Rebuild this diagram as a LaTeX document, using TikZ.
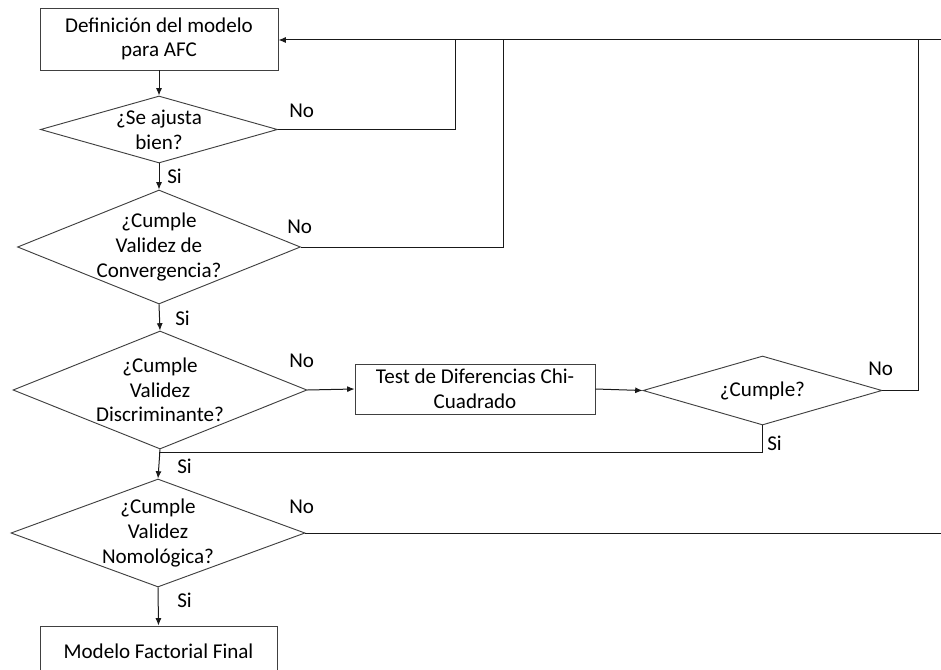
\documentclass[tikz,border=0pt]{standalone}
\usepackage{fontspec}
\setmainfont{Carlito}
\usetikzlibrary{shapes.geometric,arrows.meta}
\begin{document}
\begin{tikzpicture}[x=0.75pt,y=-0.75pt,
  every node/.style={font=\fontsize{15.8}{18.5}\selectfont},
  procbox/.style={draw=black!75,line width=0.7pt,rectangle,inner sep=0pt},
  decision/.style={draw=black!75,line width=0.7pt,diamond,inner sep=0pt},
  txt/.style={align=center,inner sep=0pt},
  lbl/.style={anchor=west,inner sep=0pt},
  flow/.style={draw=black!90,line width=0.75pt},
  arr/.style={flow,-{Latex[length=5.5pt,width=4.5pt]}}]
\useasboundingbox (0,0) rectangle (941,670);
\clip (0,0) rectangle (941,670);

% process boxes
\node[procbox,minimum width=238*0.75pt,minimum height=62*0.75pt] (b1) at (159,39) {};
\node[txt] (t1) at (b1) {Definición del modelo\\para AFC};
\node[procbox,minimum width=240*0.75pt,minimum height=50*0.75pt] (tb) at (475,389) {};
\node[txt] (ttb) at (tb) {Test de Diferencias Chi-\\Cuadrado};
\node[procbox,minimum width=237*0.75pt,minimum height=50*0.75pt] (bf) at (158.5,651) {};
\node[txt] (tbf) at (bf) {Modelo Factorial Final};

% decisions
\node[decision,minimum width=237*0.75pt,minimum height=67*0.75pt] (d1) at (159,129.5) {};
\node[txt] (td1) at (d1) {¿Se ajusta\\bien?};
\node[decision,minimum width=283*0.75pt,minimum height=114*0.75pt] (d2) at (159,247) {};
\node[txt] (td2) at (d2) {¿Cumple\\Validez de\\Convergencia?};
\node[decision,minimum width=294*0.75pt,minimum height=118*0.75pt] (d3) at (160,390) {};
\node[txt] (td3) at (d3) {¿Cumple\\Validez\\Discriminante?};
\node[decision,minimum width=239*0.75pt,minimum height=69*0.75pt] (d4) at (762.5,390.5) {};
\node[txt] (td4) at (d4) {¿Cumple?};
\node[decision,minimum width=294*0.75pt,minimum height=108*0.75pt] (d5) at (158,533) {};
\node[txt] (td5) at (d5) {¿Cumple\\Validez\\Nomológica?};

% corner points of the return paths
\coordinate (top) at (941,40);
\coordinate (c1) at (455,40);
\coordinate (c2) at (503,40);
\coordinate (c4) at (918,40);
\coordinate (j) at (159,452);
\coordinate (e5) at (941,533);

% main column
\draw[arr] (b1.south) -- (d1.north);
\draw[arr] (d1.south) -- (d2.north);
\draw[arr] (d2.south) -- (d3.north);
\draw[arr] (d3.south) -- (d5.north);
\draw[arr] (d5.south) -- (bf.north);

% side branch
\draw[arr] (d3.east) -- (tb.west);
\draw[arr] (tb.east) -- (d4.west);

% return paths
\draw[arr] (top) -- (b1.east |- top);
\draw[flow] (d1.east) -| (c1);
\draw[flow] (d2.east) -| (c2);
\draw[flow] (d4.east) -| (c4);
\draw[flow] (d4.south) |- (j);
\draw[flow] (d5.east) -- (e5);

% branch labels
\node[lbl] (n1) at (289,111) {No};
\node[lbl] (s1) at (167,176) {Si};
\node[lbl] (n2) at (287,227) {No};
\node[lbl] (s2) at (175,318) {Si};
\node[lbl] (n3) at (289,361) {No};
\node[lbl] (n4) at (868,369) {No};
\node[lbl] (s4) at (767,443) {Si};
\node[lbl] (s3) at (177,466) {Si};
\node[lbl] (n5) at (289,507) {No};
\node[lbl] (s5) at (177,600) {Si};
\end{tikzpicture}
\end{document}
